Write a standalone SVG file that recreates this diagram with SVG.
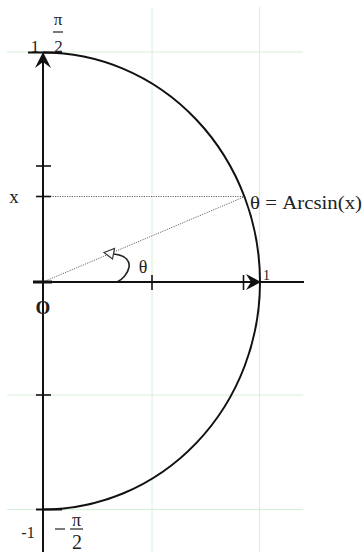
<svg xmlns="http://www.w3.org/2000/svg" width="364" height="552" viewBox="0 0 364 552">
<style>
.grid{stroke:#d6f0d6;stroke-width:1;fill:none}
.ax{stroke:#111;stroke-width:2;fill:none}
.tk{stroke:#111;stroke-width:1.6;fill:none}
.dot{stroke:#666;stroke-width:1;stroke-dasharray:1.2 1.2;fill:none}
.t{font-family:"Liberation Serif","Times New Roman",serif;fill:#222}
</style>
<rect width="364" height="552" fill="#fff"/>
<g id="grid">
<line class="grid" x1="152" y1="7" x2="152" y2="552"/>
<line class="grid" x1="259.5" y1="7" x2="259.5" y2="552"/>
<line class="grid" x1="7" y1="52" x2="303" y2="52"/>
<line class="grid" x1="7" y1="395" x2="303" y2="395"/>
<line class="grid" x1="7" y1="509.5" x2="303" y2="509.5"/>
</g>
<g id="connectors">
<path class="dot" d="M43,196.5 H245"/>
<path class="dot" d="M43,282 L245,196.5"/>
<path d="M117,282 C128,277 139,257 114,254" fill="none" stroke="#222" stroke-width="1.6"/>
<polygon points="104,252.5 114.5,248.5 112.5,259" fill="#fff" stroke="#333" stroke-width="1.2"/>
</g>
<g id="axes">
<line class="ax" x1="43" y1="58" x2="43" y2="552"/>
<polygon points="43,52 35,68 43,62 51,68" fill="#111"/>
<line class="ax" x1="33" y1="282" x2="304" y2="282"/>
<line x1="33" y1="282" x2="52" y2="282" stroke="#111" stroke-width="3"/>
<polygon points="261,282 246,274 251,282 246,290" fill="#111"/>
<line class="tk" x1="36" y1="166" x2="51" y2="166"/>
<line class="tk" x1="36" y1="196.5" x2="51" y2="196.5"/>
<line class="tk" x1="36" y1="395" x2="51" y2="395"/>
<line class="tk" x1="152" y1="275" x2="152" y2="290"/>
<line class="tk" x1="243.5" y1="275" x2="243.5" y2="290"/>
<line class="ax" x1="28" y1="52.5" x2="62" y2="52.5"/>
<line class="ax" x1="36" y1="509.5" x2="62" y2="509.5"/>
</g>
<g id="arc">
<path class="ax" d="M43,52.5 A217,229.5 0 0 1 260,282 A217,227.5 0 0 1 43,509.5"/>
</g>
<g id="labels">
<text class="t" x="35" y="52" font-size="17" text-anchor="middle">1</text>
<text class="t" x="58" y="25" font-size="17" text-anchor="middle">π</text>
<line x1="53" y1="32" x2="63" y2="32" stroke="#222" stroke-width="1.2"/>
<text class="t" x="58.5" y="52" font-size="17" text-anchor="middle">2</text>
<text class="t" x="14" y="203" font-size="19" text-anchor="middle">x</text>
<text class="t" x="250" y="209" font-size="18" textLength="112" lengthAdjust="spacingAndGlyphs">θ = Arcsin(x)</text>
<text class="t" x="143" y="273" font-size="18" text-anchor="middle">θ</text>
<text class="t" x="266.5" y="280" font-size="14" text-anchor="middle">1</text>
<text class="t" x="43" y="314" font-size="19" font-weight="bold" text-anchor="middle">O</text>
<text class="t" x="28" y="538" font-size="16" text-anchor="middle">-1</text>
<line x1="55" y1="529" x2="65" y2="529" stroke="#222" stroke-width="1.2"/>
<text class="t" x="76.5" y="526" font-size="18" text-anchor="middle">π</text>
<line x1="70" y1="529" x2="83" y2="529" stroke="#222" stroke-width="1.2"/>
<text class="t" x="77" y="549" font-size="20" text-anchor="middle">2</text>
</g>
</svg>
